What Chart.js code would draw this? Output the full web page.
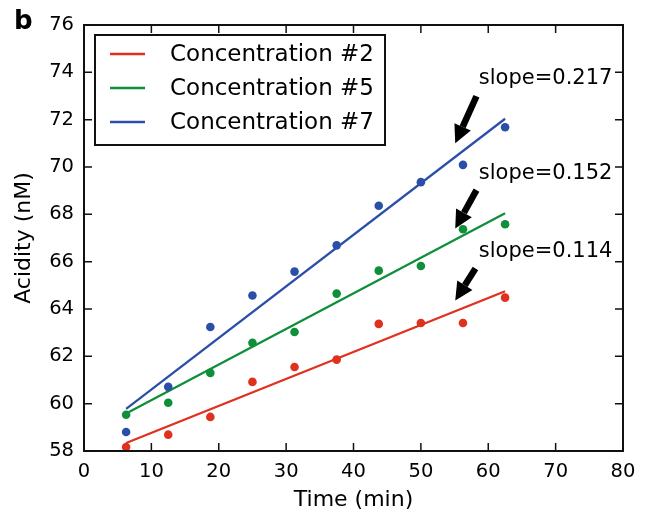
<!DOCTYPE html>
<html>
<head>
<meta charset="utf-8">
<script src="https://cdn.jsdelivr.net/npm/chart.js@4"></script>
<style>
  html, body { margin: 0; padding: 0; background: #fff; }
  #wrap { width: 651px; height: 515px; }
</style>
</head>
<body>
<div id="wrap"><canvas id="chart" width="651" height="515"></canvas></div>
<script>
// measured values
const times = [6.25, 12.5, 18.75, 25, 31.25, 37.5, 43.75, 50, 56.25, 62.5];
const conc2 = [58.17, 58.69, 59.44, 60.92, 61.55, 61.86, 63.37, 63.41, 63.41, 64.48];
const conc5 = [59.53, 60.04, 61.30, 62.57, 63.03, 64.65, 65.62, 65.82, 67.37, 67.58];
const conc7 = [58.80, 60.71, 63.24, 64.57, 65.58, 66.69, 68.36, 69.36, 70.09, 71.68];

// fitted lines (end points)
const fitTimes = [6.25, 62.5];
const fit2 = [58.34, 64.75];
const fit5 = [59.58, 68.05];
const fit7 = [59.78, 72.04];

const seriesNames = ["Concentration #2", "Concentration #5", "Concentration #7"];
const slopeLabels = ["slope=0.114", "slope=0.152", "slope=0.217"];
const xTicks = [0, 10, 20, 30, 40, 50, 60, 70, 80];
const yTicks = [58, 60, 62, 64, 66, 68, 70, 72, 74, 76];

const colors = ["#e0301e", "#0f8f3a", "#2b4fa8"];
const FONT = "'DejaVu Sans', sans-serif";

const pts = (xs, ys) => xs.map((x, i) => ({ x: x, y: ys[i] }));

const scatterSet = (ys, i) => ({
  type: "scatter",
  label: seriesNames[i] + " data",
  data: pts(times, ys),
  showLine: false,
  pointRadius: 4.3,
  pointBorderWidth: 0,
  backgroundColor: colors[i],
  borderColor: colors[i]
});

const fitSet = (ys, i) => ({
  type: "line",
  label: seriesNames[i],
  data: pts(fitTimes, ys),
  borderColor: colors[i],
  borderWidth: 2.3,
  pointRadius: 0,
  fill: false,
  tension: 0
});

// text + arrow positions in data units: [textX, textY, tailX, tailY, headX, headY]
const notes = [
  [58.6, 66.43, 58.1, 65.71, 55.1, 64.36],
  [58.6, 69.72, 58.25, 69.02, 55.1, 67.4],
  [58.6, 73.73, 58.25, 72.99, 55.1, 71.0]
];

const decor = {
  id: "decor",
  afterDraw(chart) {
    const ctx = chart.ctx;
    const a = chart.chartArea;
    const sx = chart.scales.x, sy = chart.scales.y;
    ctx.save();

    // frame
    ctx.strokeStyle = "#111";
    ctx.lineWidth = 2;
    ctx.strokeRect(a.left, a.top, a.right - a.left, a.bottom - a.top);

    // inward ticks on all sides
    ctx.lineWidth = 1.5;
    ctx.beginPath();
    xTicks.forEach(v => {
      const px = sx.getPixelForValue(v);
      ctx.moveTo(px, a.bottom); ctx.lineTo(px, a.bottom - 8);
      ctx.moveTo(px, a.top); ctx.lineTo(px, a.top + 8);
    });
    yTicks.forEach(v => {
      const py = sy.getPixelForValue(v);
      ctx.moveTo(a.left, py); ctx.lineTo(a.left + 8, py);
      ctx.moveTo(a.right, py); ctx.lineTo(a.right - 8, py);
    });
    ctx.stroke();

    // legend box
    const lx = a.left + 11, ly = a.top + 10;
    ctx.fillStyle = "#fff";
    ctx.fillRect(lx, ly, 290, 110);
    ctx.strokeStyle = "#111";
    ctx.lineWidth = 2;
    ctx.strokeRect(lx, ly, 290, 110);
    ctx.font = "23px " + FONT;
    ctx.textBaseline = "middle";
    ctx.textAlign = "left";
    seriesNames.forEach((name, i) => {
      const ry = ly + 19 + i * 34;
      ctx.strokeStyle = colors[i];
      ctx.lineWidth = 2.3;
      ctx.beginPath();
      ctx.moveTo(lx + 15, ry); ctx.lineTo(lx + 50, ry);
      ctx.stroke();
      ctx.fillStyle = "#000";
      ctx.fillText(name, lx + 75, ry + 1);
    });

    // slope notes and arrows
    ctx.font = "21px " + FONT;
    notes.forEach((n, i) => {
      ctx.fillStyle = "#000";
      ctx.fillText(slopeLabels[i], sx.getPixelForValue(n[0]), sy.getPixelForValue(n[1]));
      const tx = sx.getPixelForValue(n[2]), ty = sy.getPixelForValue(n[3]);
      const hx = sx.getPixelForValue(n[4]), hy = sy.getPixelForValue(n[5]);
      const ang = Math.atan2(hy - ty, hx - tx);
      const hl = 18, hw = 9;
      const bx = hx - hl * Math.cos(ang), by = hy - hl * Math.sin(ang);
      ctx.strokeStyle = "#000";
      ctx.lineWidth = 6.5;
      ctx.lineCap = "butt";
      ctx.beginPath();
      ctx.moveTo(tx, ty); ctx.lineTo(bx, by);
      ctx.stroke();
      ctx.beginPath();
      ctx.moveTo(hx, hy);
      ctx.lineTo(bx + hw * Math.sin(ang), by - hw * Math.cos(ang));
      ctx.lineTo(bx - hw * Math.sin(ang), by + hw * Math.cos(ang));
      ctx.closePath();
      ctx.fill();
    });

    // panel letter
    ctx.font = "bold 26px " + FONT;
    ctx.textBaseline = "alphabetic";
    ctx.fillText("b", 14, 29);
    ctx.restore();
  }
};

new Chart(document.getElementById("chart"), {
  data: {
    datasets: [
      scatterSet(conc2, 0), scatterSet(conc5, 1), scatterSet(conc7, 2),
      fitSet(fit2, 0), fitSet(fit5, 1), fitSet(fit7, 2)
    ]
  },
  options: {
    responsive: false,
    animation: false,
    layout: { padding: { top: 25, right: 28, left: 0, bottom: 0 } },
    plugins: { legend: { display: false }, tooltip: { enabled: false } },
    scales: {
      x: {
        type: "linear",
        min: 0, max: 80,
        afterFit: s => { s.height = 64; },
        afterBuildTicks: s => { s.ticks = xTicks.map(v => ({ value: v })); },
        grid: { display: false, drawTicks: false },
        border: { display: false },
        ticks: { color: "#000", padding: 9, font: { family: FONT, size: 19.5 } },
        title: {
          display: true, text: "Time (min)", color: "#000",
          font: { family: FONT, size: 22 }, padding: { top: 0, bottom: 2 }
        }
      },
      y: {
        type: "linear",
        min: 58, max: 76,
        afterFit: s => { s.width = 84; },
        afterBuildTicks: s => { s.ticks = yTicks.map(v => ({ value: v })); },
        grid: { display: false, drawTicks: false },
        border: { display: false },
        ticks: { color: "#000", padding: 10, font: { family: FONT, size: 19.5 } },
        title: {
          display: true, text: "Acidity (nM)", color: "#000",
          font: { family: FONT, size: 22 }, padding: { top: 11, bottom: 0 }
        }
      }
    }
  },
  plugins: [decor]
});
</script>
</body>
</html>
